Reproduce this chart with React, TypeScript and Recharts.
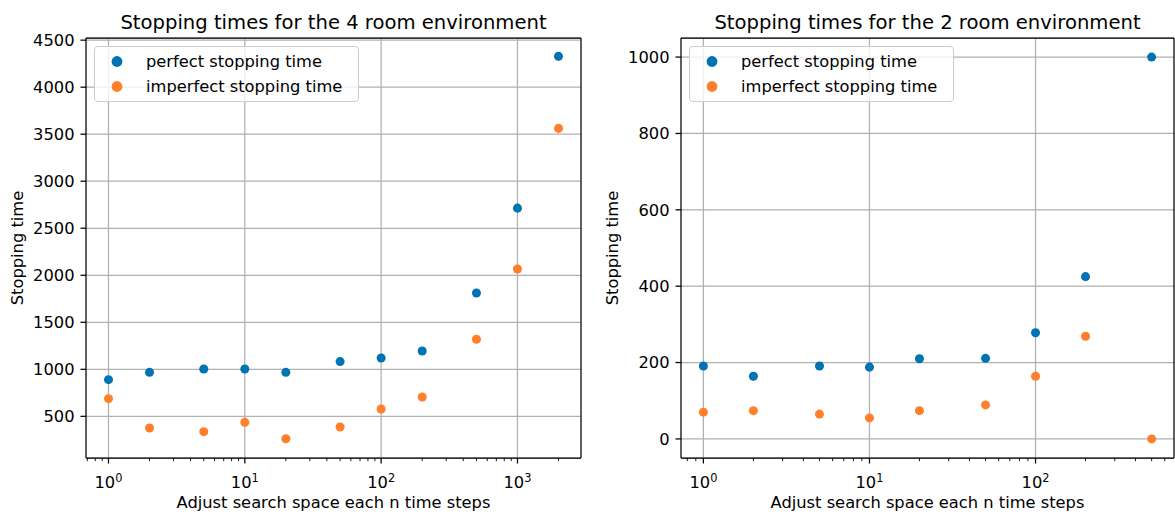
import {
  CartesianGrid,
  Label,
  Legend,
  ReferenceLine,
  Scatter,
  ScatterChart,
  XAxis,
  YAxis,
  ZAxis,
} from 'recharts'

const FONT = '"DejaVu Sans", sans-serif'
const BLUE = '#0173b2'
const ORANGE = '#ff7f2a'
const GRID = '#b0b0b0'
const TICK_FONT = 16.3

// 4 room environment
const STEPS_4 = [1, 2, 5, 10, 20, 50, 100, 200, 500, 1000, 2000]
const PERFECT_4 = [890, 968, 1004, 1004, 968, 1082, 1120, 1195, 1812, 2714, 4328]
const IMPERFECT_4 = [688, 376, 337, 436, 262, 386, 578, 706, 1320, 2066, 3562]

// 2 room environment
const STEPS_2 = [1, 2, 5, 10, 20, 50, 100, 200, 500]
const PERFECT_2 = [191, 164, 191, 188, 210, 211, 278, 425, 1000]
const IMPERFECT_2 = [70, 74, 65, 55, 74, 89, 164, 269, 0]

const MAJOR_X = [1, 10, 100, 1000]
const MINOR_X_4 = [
  0.7, 0.8, 0.9, 2, 3, 4, 5, 6, 7, 8, 9, 20, 30, 40, 50, 60, 70, 80, 90, 200, 300, 400, 500, 600,
  700, 800, 900, 2000,
]
const MINOR_X_2 = [
  0.8, 0.9, 2, 3, 4, 5, 6, 7, 8, 9, 20, 30, 40, 50, 60, 70, 80, 90, 200, 300, 400, 500, 600,
]
const Y_TICKS_4 = [500, 1000, 1500, 2000, 2500, 3000, 3500, 4000, 4500]
const Y_TICKS_2 = [0, 200, 400, 600, 800, 1000]

const SERIES_NAMES = ['perfect stopping time', 'imperfect stopping time']

const toPoints = (xs: number[], ys: number[]) => xs.map((x, i) => ({ x, y: ys[i] }))

const LogTick = (props: any) => {
  const { x, y, payload } = props
  const v = payload.value
  const major = MAJOR_X.includes(v)
  return (
    <g>
      <line
        x1={x}
        x2={x}
        y1={y}
        y2={y + (major ? 5.5 : 3.1)}
        stroke="#000"
        strokeWidth={major ? 1.25 : 0.9}
      />
      {major && (
        <text x={x} y={y + 30} textAnchor="middle" fontSize={TICK_FONT} fontFamily={FONT} fill="#000">
          10
          <tspan dy={-6.5} fontSize={11.4}>
            {Math.round(Math.log10(v))}
          </tspan>
        </text>
      )}
    </g>
  )
}

const LegendBox = ({ payload }: any) => {
  const items = [...(payload ?? [])].sort(
    (a: any, b: any) => SERIES_NAMES.indexOf(a.value) - SERIES_NAMES.indexOf(b.value),
  )
  return (
    <div
      style={{
        display: 'inline-block',
        background: 'rgba(255,255,255,0.8)',
        border: '1px solid #cccccc',
        borderRadius: 4,
        padding: '5px 16px 5px 6px',
        fontFamily: FONT,
        fontSize: TICK_FONT,
        color: '#000',
      }}
    >
      {items.map((p: any, i: number) => (
        <div
          key={p.value}
          style={{ display: 'flex', alignItems: 'center', height: 19, marginTop: i ? 6 : 0 }}
        >
          <svg width={32} height={19}>
            <circle cx={16} cy={9.5} r={5.4} fill={p.color} />
          </svg>
          <span style={{ marginLeft: 13, whiteSpace: 'nowrap' }}>{p.value}</span>
        </div>
      ))}
    </div>
  )
}

type PanelProps = {
  title: string
  steps: number[]
  perfect: number[]
  imperfect: number[]
  xDomain: [number, number]
  yDomain: [number, number]
  minorTicks: number[]
  yTicks: number[]
  majorGrid: number[]
  width: number
  yAxisWidth: number
  marginRight: number
}

const Panel = ({
  title,
  steps,
  perfect,
  imperfect,
  xDomain,
  yDomain,
  minorTicks,
  yTicks,
  majorGrid,
  width,
  yAxisWidth,
  marginRight,
}: PanelProps) => {
  const xTicks = [...majorGrid, ...minorTicks].sort((a, b) => a - b)
  return (
    <ScatterChart
      width={width}
      height={521}
      margin={{ top: 37, right: marginRight, bottom: 0, left: 0 }}
    >
      <CartesianGrid vertical={false} stroke={GRID} strokeWidth={1.25} />
      {majorGrid.map((v) => (
        <ReferenceLine key={v} x={v} stroke={GRID} strokeWidth={1.25} />
      ))}
      <XAxis
        type="number"
        dataKey="x"
        scale="log"
        domain={xDomain}
        ticks={xTicks}
        interval={0}
        tickSize={0}
        tickMargin={0}
        tick={(p: any) => <LogTick {...p} />}
        height={63}
        axisLine={{ stroke: '#000', strokeWidth: 1.25 }}
      >
        <Label
          content={({ viewBox }: any) => (
            <text
              x={viewBox.x + viewBox.width / 2}
              y={viewBox.y + 50}
              textAnchor="middle"
              fontSize={TICK_FONT}
              fontFamily={FONT}
              fill="#000"
            >
              Adjust search space each n time steps
            </text>
          )}
        />
      </XAxis>
      <XAxis
        xAxisId="top"
        orientation="top"
        type="number"
        scale="log"
        domain={xDomain}
        height={1}
        tick={false}
        tickLine={false}
        axisLine={{ stroke: '#000', strokeWidth: 1.25 }}
      >
        <Label
          content={({ viewBox }: any) => (
            <text
              x={viewBox.x + viewBox.width / 2}
              y={viewBox.y - 8.5}
              textAnchor="middle"
              fontSize={19.6}
              fontFamily={FONT}
              fill="#000"
            >
              {title}
            </text>
          )}
        />
      </XAxis>
      <YAxis
        type="number"
        dataKey="y"
        domain={yDomain}
        ticks={yTicks}
        interval={0}
        width={yAxisWidth}
        tickSize={5.5}
        tickMargin={6}
        tick={{ fontSize: TICK_FONT, fill: '#000', fontFamily: FONT }}
        tickLine={{ stroke: '#000', strokeWidth: 1.25 }}
        axisLine={{ stroke: '#000', strokeWidth: 1.25 }}
      >
        <Label
          content={({ viewBox }: any) => {
            const cx = viewBox.x + viewBox.width - 69
            const cy = viewBox.y + viewBox.height / 2
            return (
              <text
                x={cx}
                y={cy}
                transform={`rotate(-90 ${cx} ${cy})`}
                textAnchor="middle"
                dominantBaseline="central"
                fontSize={TICK_FONT}
                fontFamily={FONT}
                fill="#000"
              >
                Stopping time
              </text>
            )
          }}
        />
      </YAxis>
      <YAxis
        yAxisId="right"
        orientation="right"
        type="number"
        domain={yDomain}
        width={1}
        tick={false}
        tickLine={false}
        axisLine={{ stroke: '#000', strokeWidth: 1.25 }}
      />
      <ZAxis range={[92, 92]} />
      <Scatter
        name={SERIES_NAMES[0]}
        data={toPoints(steps, perfect)}
        fill={BLUE}
        isAnimationActive={false}
      />
      <Scatter
        name={SERIES_NAMES[1]}
        data={toPoints(steps, imperfect)}
        fill={ORANGE}
        isAnimationActive={false}
      />
      <Legend
        layout="horizontal"
        verticalAlign="middle"
        align="center"
        content={(p: any) => <LegendBox {...p} />}
        wrapperStyle={{ left: yAxisWidth + 8, top: 46, width: 'auto' }}
      />
    </ScatterChart>
  )
}

export default function App() {
  return (
    <div style={{ position: 'absolute', left: 0, top: 0, width: 1175, height: 521, background: '#fff' }}>
      <div style={{ position: 'absolute', left: 0, top: 0 }}>
        <Panel
          title="Stopping times for the 4 room environment"
          steps={STEPS_4}
          perfect={PERFECT_4}
          imperfect={IMPERFECT_4}
          xDomain={[0.684, 2924]}
          yDomain={[57, 4523]}
          minorTicks={MINOR_X_4}
          yTicks={Y_TICKS_4}
          majorGrid={MAJOR_X}
          width={590}
          yAxisWidth={86}
          marginRight={8}
        />
      </div>
      <div style={{ position: 'absolute', left: 590, top: 0 }}>
        <Panel
          title="Stopping times for the 2 room environment"
          steps={STEPS_2}
          perfect={PERFECT_2}
          imperfect={IMPERFECT_2}
          xDomain={[0.733, 682]}
          yDomain={[-50, 1050]}
          minorTicks={MINOR_X_2}
          yTicks={Y_TICKS_2}
          majorGrid={MAJOR_X.slice(0, 3)}
          width={585}
          yAxisWidth={91}
          marginRight={0}
        />
      </div>
    </div>
  )
}
